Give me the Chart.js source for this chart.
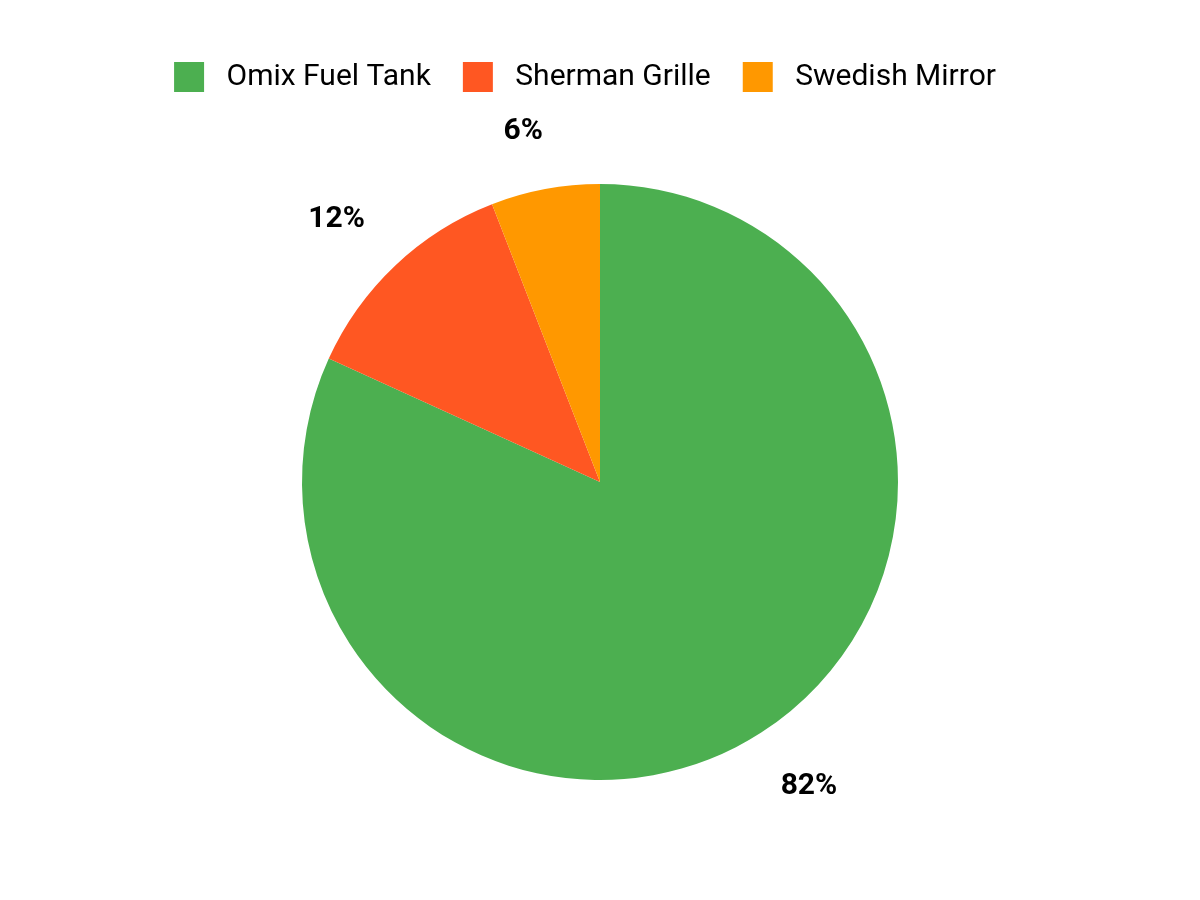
<!DOCTYPE html>
<html>
<head>
<meta charset="utf-8">
<script src="https://cdn.jsdelivr.net/npm/chart.js@4/dist/chart.umd.min.js"></script>
<style>
  html, body { margin: 0; padding: 0; background: #fff; }
  #wrap { width: 1200px; height: 900px; }
</style>
</head>
<body>
<div id="wrap"><canvas id="pieChart"></canvas></div>
<script>
// data
const labels = ['Omix Fuel Tank', 'Sherman Grille', 'Swedish Mirror'];
const values = [81.8, 12.3, 5.9];
const colors = ['#4CAF50', '#FF5722', '#FF9800'];

// percentage labels outside the slices
const outsideLabels = {
  id: 'outsideLabels',
  afterDatasetsDraw(chart) {
    const ctx = chart.ctx;
    const meta = chart.getDatasetMeta(0);
    const total = values.reduce((a, b) => a + b, 0);
    ctx.save();
    ctx.font = 'bold 30px Roboto';
    ctx.fillStyle = '#000';
    ctx.textAlign = 'center';
    ctx.textBaseline = 'middle';
    meta.data.forEach((arc, i) => {
      const p = arc.getProps(['x', 'y', 'startAngle', 'endAngle', 'outerRadius'], true);
      const mid = (p.startAngle + p.endAngle) / 2 - 0.03;
      const text = Math.round(values[i] / total * 100) + '%';
      const w = ctx.measureText(text).width;
      const h = 22;
      // push the text box out so its edge keeps a gap from the pie
      const half = w / 2 * Math.abs(Math.cos(mid)) + h / 2 * Math.abs(Math.sin(mid));
      const r = p.outerRadius + 46 + half;
      ctx.fillText(text, p.x + Math.cos(mid) * r, p.y + Math.sin(mid) * r);
    });
    ctx.restore();
  }
};

// the legend sits a little left of centre in the original
const legendShift = {
  id: 'legendShift',
  afterLayout(chart) {
    chart.legend.left -= 15;
    chart.legend.right -= 15;
  }
};

const ctx = document.getElementById('pieChart').getContext('2d');
new Chart(ctx, {
  type: 'pie',
  data: {
    labels: labels,
    datasets: [{
      data: values,
      backgroundColor: colors,
      borderWidth: 0,
      radius: 298
    }]
  },
  options: {
    responsive: true,
    maintainAspectRatio: false,
    animation: false,
    layout: {
      padding: { top: 30, bottom: 38, left: 0, right: 0 }
    },
    plugins: {
      legend: {
        display: true,
        position: 'top',
        labels: {
          boxWidth: 30,
          boxHeight: 30,
          padding: 32,
          color: '#000',
          font: { family: 'Roboto', size: 30 },
          // a bit more room between the swatch and the text
          generateLabels(chart) {
            return Chart.overrides.pie.plugins.legend.labels.generateLabels(chart)
              .map(item => Object.assign(item, { text: ' ' + item.text }));
          }
        }
      },
      tooltip: { enabled: false }
    }
  },
  plugins: [outsideLabels, legendShift]
});
</script>
</body>
</html>
